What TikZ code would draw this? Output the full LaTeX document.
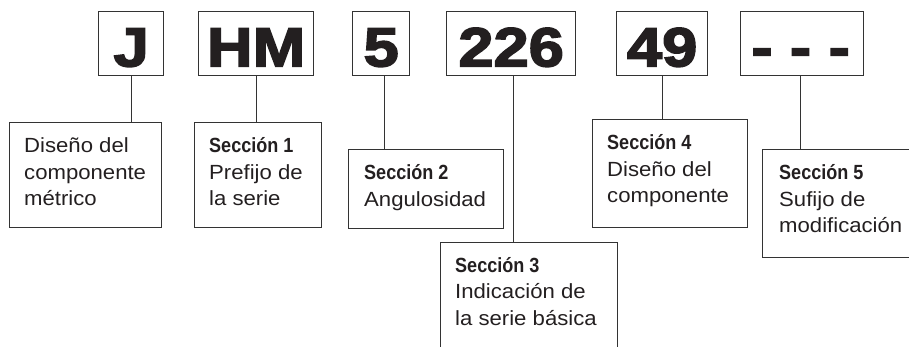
\documentclass[tikz,border=0pt]{standalone}
\usepackage{fontspec}
\setmainfont{Liberation Sans}
\newfontfamily\bigfont[FakeStretch=1.15,FakeBold=3]{Liberation Sans Bold}
\newfontfamily\txtfont[FakeStretch=1.08]{Liberation Sans}
\newfontfamily\secfont[FakeStretch=0.88]{Liberation Sans Bold}
\definecolor{ink}{HTML}{333333}
\definecolor{txtc}{HTML}{231F20}
\tikzset{
  boxst/.style={draw=ink, line width=1.3pt, rectangle, inner sep=0pt, anchor=north west},
  bigtxt/.style={inner sep=0pt, text=txtc, font=\bigfont\fontsize{55}{60}\selectfont, anchor=base},
  txt/.style={inner sep=0pt, text=txtc, font=\txtfont\fontsize{20.5}{26.5}\selectfont, anchor=base west},
  conn/.style={draw=ink, line width=1.3pt}
}
\begin{document}
\begin{tikzpicture}[x=1pt,y=-1pt]
\useasboundingbox (0,0) rectangle (909,347);
\clip (0,0) rectangle (909,347);
% top code boxes
\node[boxst, minimum width=65pt, minimum height=64pt] (tJ) at (98,11) {};
\node[boxst, minimum width=115pt, minimum height=64pt] (tHM) at (198,11) {};
\node[boxst, minimum width=57pt, minimum height=64pt] (t5) at (352,11) {};
\node[boxst, minimum width=129pt, minimum height=64pt] (t226) at (446,11) {};
\node[boxst, minimum width=91pt, minimum height=64pt] (t49) at (616,11) {};
\node[boxst, minimum width=123pt, minimum height=64pt] (tD) at (740,11) {};
\node[bigtxt] (lJ) at ([yshift=10pt]tJ.south) {J};
\node[bigtxt] (lHM) at ([yshift=10pt]tHM.south) {HM};
\node[bigtxt] (l5) at ([yshift=10pt]t5.south) {5};
\node[bigtxt] (l226) at ([yshift=10pt]t226.south) {226};
\node[bigtxt] (l49) at ([yshift=10pt]t49.south) {49};
\node[bigtxt] (lD) at ([yshift=10pt,xshift=-1.5pt]tD.south) {- - -};
% description boxes
\node[boxst, minimum width=152pt, minimum height=105pt] (b0) at (9,122) {};
\node[boxst, minimum width=127pt, minimum height=105pt] (b1) at (194,122) {};
\node[boxst, minimum width=155pt, minimum height=79pt] (b2) at (348,149) {};
\node[boxst, minimum width=177pt, minimum height=200pt] (b3) at (440,242) {};
\node[boxst, minimum width=155pt, minimum height=108pt] (b4) at (592,119) {};
\node[boxst, minimum width=250pt, minimum height=108pt] (b5) at (762,149) {};
\node[txt] (x0) at ([xshift=15pt,yshift=-31pt]b0.north west) {\parbox[t]{150pt}{Diseño del\\componente\\métrico}};
\node[txt] (x1) at ([xshift=15pt,yshift=-31pt]b1.north west) {\parbox[t]{150pt}{{\secfont Sección 1}\\Prefijo de\\la serie}};
\node[txt] (x2) at ([xshift=16pt,yshift=-31pt]b2.north west) {\parbox[t]{150pt}{{\secfont Sección 2}\\Angulosidad}};
\node[txt] (x3) at ([xshift=15pt,yshift=-30pt]b3.north west) {\parbox[t]{170pt}{{\secfont Sección 3}\\Indicación de\\la serie básica}};
\node[txt] (x4) at ([xshift=15pt,yshift=-31pt]b4.north west) {\parbox[t]{150pt}{{\secfont Sección 4}\\Diseño del\\componente}};
\node[txt] (x5) at ([xshift=17pt,yshift=-31pt]b5.north west) {\parbox[t]{150pt}{{\secfont Sección 5}\\Sufijo de\\modificación}};
% connectors
\draw[conn] (tJ.south) -- (tJ.south |- b0.north);
\draw[conn] (tHM.south) -- (tHM.south |- b1.north);
\draw[conn] ([xshift=3.5pt]t5.south) -- ([xshift=3.5pt]t5.south |- b2.north);
\draw[conn] ([xshift=2.5pt]t226.south) -- ([xshift=2.5pt]t226.south |- b3.north);
\draw[conn] (t49.south) -- (t49.south |- b4.north);
\draw[conn] ([xshift=-1.5pt]tD.south) -- ([xshift=-1.5pt]tD.south |- b5.north);
\end{tikzpicture}
\end{document}
